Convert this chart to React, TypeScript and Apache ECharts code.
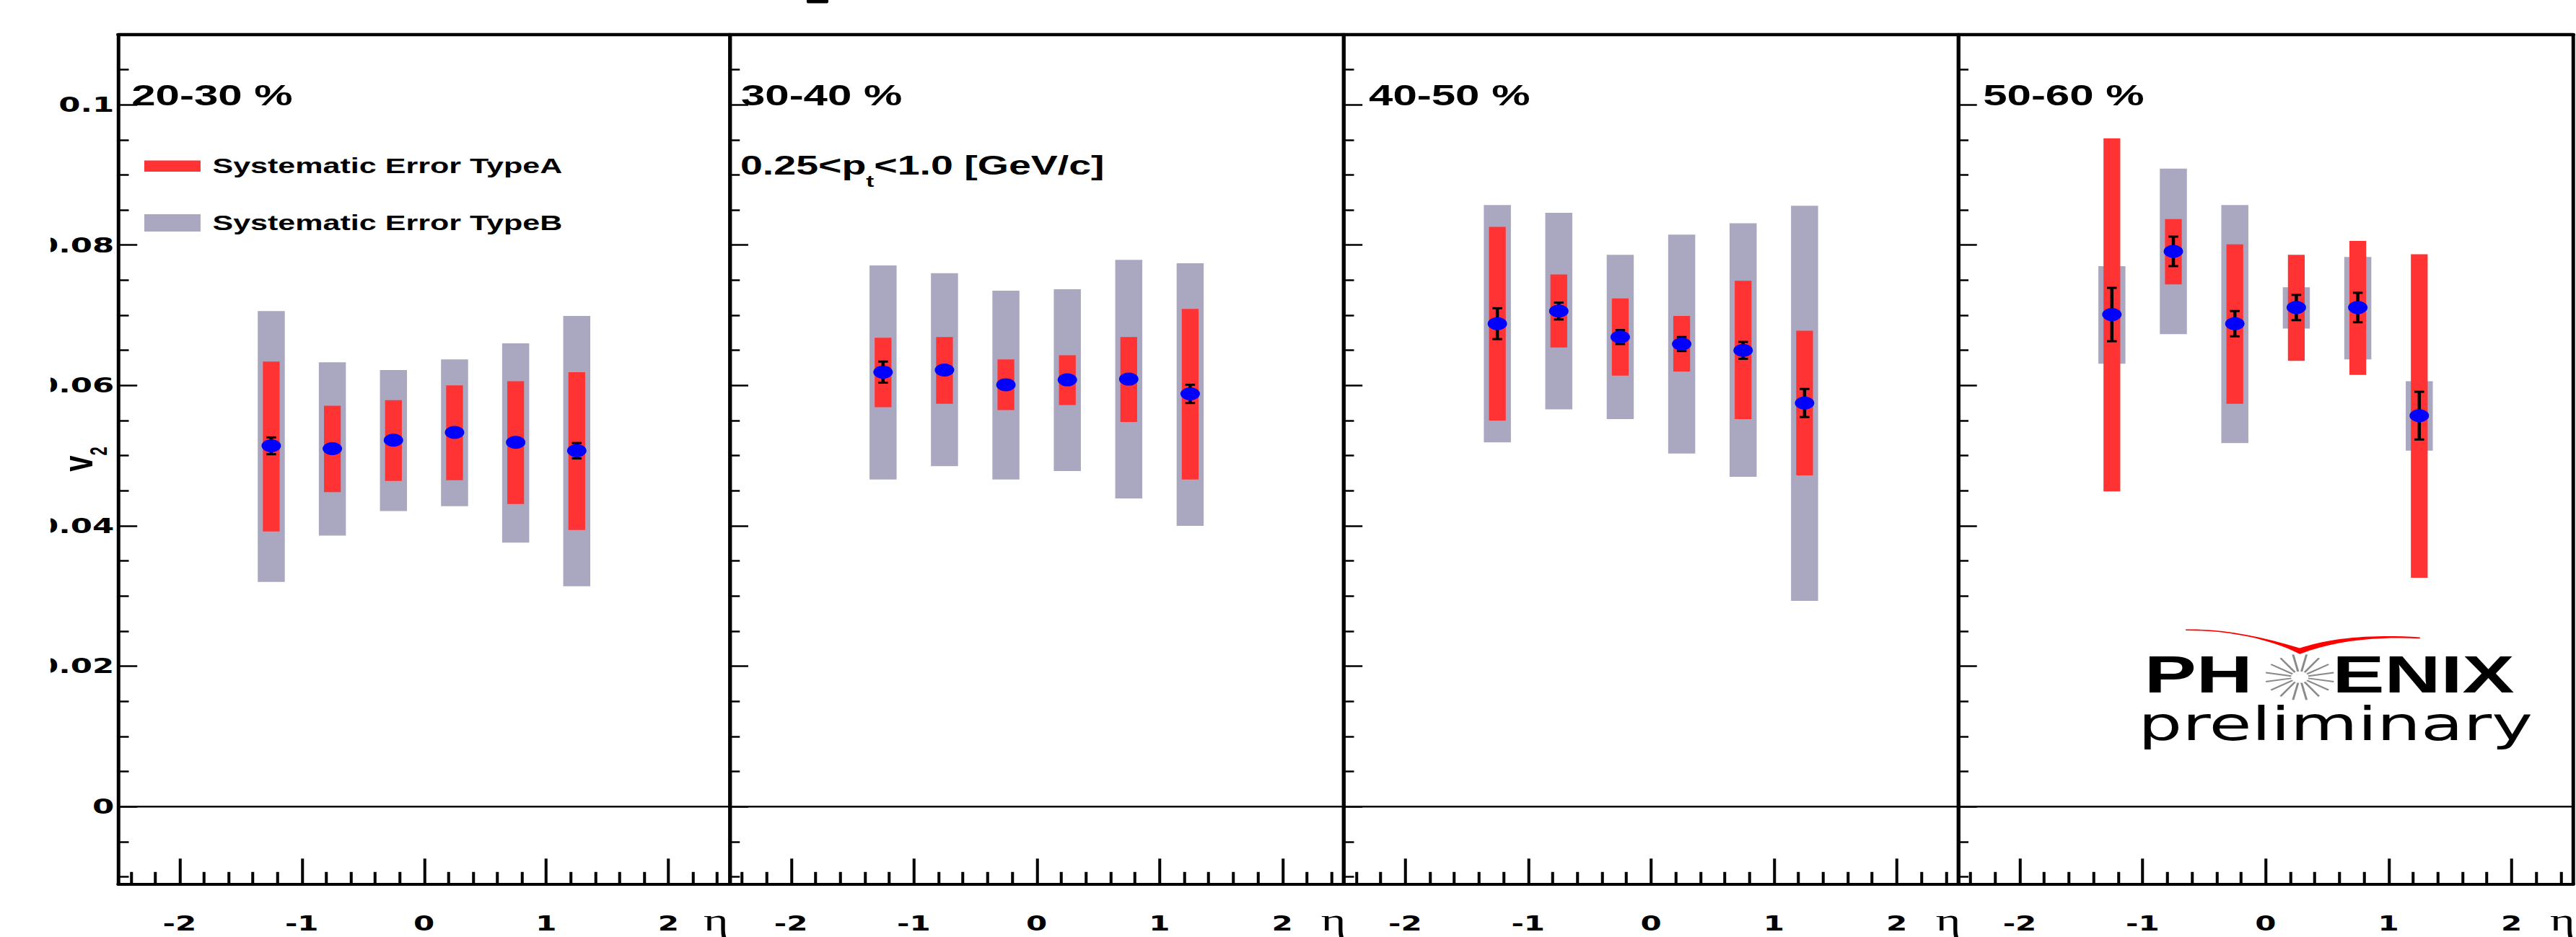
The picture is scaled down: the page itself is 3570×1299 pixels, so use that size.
import React, { useEffect, useRef } from "react";
import * as echarts from "echarts";

// ---------------- data ----------------
const ETA = [-1.25, -0.75, -0.25, 0.25, 0.75, 1.25];
const CENTRALITY = ["20-30 %", "30-40 %", "40-50 %", "50-60 %"];
const PT_RANGE_TEXT = "{m|0.25<p}{s|t}{m|<1.0 [GeV/c]}";
const LEGEND_TYPE_A = "Systematic Error TypeA";
const LEGEND_TYPE_B = "Systematic Error TypeB";
const X_TITLE = "η";

// 20-30 %
const V2_20_30 = [0.0514, 0.051, 0.0522, 0.0533, 0.0519, 0.0507];
const STAT_20_30 = [0.0012, 0.0006, 0.0006, 0.0006, 0.0006, 0.0011];
const TYPEA_LOW_20_30 = [0.0392, 0.0448, 0.0464, 0.0465, 0.0431, 0.0394];
const TYPEA_HIGH_20_30 = [0.0634, 0.0571, 0.0579, 0.06, 0.0606, 0.0619];
const TYPEB_LOW_20_30 = [0.032, 0.0386, 0.0421, 0.0428, 0.0376, 0.0314];
const TYPEB_HIGH_20_30 = [0.0706, 0.0633, 0.0622, 0.0637, 0.066, 0.0699];

// 30-40 %
const V2_30_40 = [0.0619, 0.0622, 0.0601, 0.0608, 0.0609, 0.0588];
const STAT_30_40 = [0.0015, 0.0006, 0.0006, 0.0006, 0.0006, 0.0013];
const TYPEA_LOW_30_40 = [0.0569, 0.0574, 0.0565, 0.0572, 0.0548, 0.0466];
const TYPEA_HIGH_30_40 = [0.0668, 0.0669, 0.0637, 0.0643, 0.0669, 0.0709];
const TYPEB_LOW_30_40 = [0.0466, 0.0485, 0.0466, 0.0478, 0.0439, 0.04];
const TYPEB_HIGH_30_40 = [0.0771, 0.076, 0.0735, 0.0737, 0.0779, 0.0774];

// 40-50 %
const V2_40_50 = [0.0688, 0.0706, 0.0669, 0.0659, 0.065, 0.0575];
const STAT_40_50 = [0.0022, 0.0012, 0.001, 0.001, 0.0012, 0.002];
const TYPEA_LOW_40_50 = [0.055, 0.0654, 0.0614, 0.062, 0.0552, 0.0472];
const TYPEA_HIGH_40_50 = [0.0826, 0.0758, 0.0724, 0.0699, 0.0749, 0.0678];
const TYPEB_LOW_40_50 = [0.0519, 0.0566, 0.0552, 0.0503, 0.047, 0.0293];
const TYPEB_HIGH_40_50 = [0.0857, 0.0846, 0.0786, 0.0815, 0.0831, 0.0856];

// 50-60 %
const V2_50_60 = [0.0701, 0.0791, 0.0688, 0.0711, 0.0711, 0.0557];
const STAT_50_60 = [0.0038, 0.0021, 0.0018, 0.0018, 0.0021, 0.0034];
const TYPEA_LOW_50_60 = [0.0449, 0.0744, 0.0574, 0.0635, 0.0615, 0.0326];
const TYPEA_HIGH_50_60 = [0.0952, 0.0837, 0.0801, 0.0786, 0.0806, 0.0787];
const TYPEB_LOW_50_60 = [0.0631, 0.0673, 0.0518, 0.0681, 0.0637, 0.0507];
const TYPEB_HIGH_50_60 = [0.077, 0.0909, 0.0857, 0.074, 0.0783, 0.0606];

// axis ticks / labels
const X_MIN = -2.5;
const X_MAX = 2.5;
const Y_MIN = -0.011;
const Y_MAX = 0.11;
const X_MAJOR_TICKS = [-2, -1, 0, 1, 2];
const X_MINOR_TICKS = [
  -2.4, -2.2, -1.8, -1.6, -1.4, -1.2, -0.8, -0.6, -0.4, -0.2, 0.2, 0.4, 0.6,
  0.8, 1.2, 1.4, 1.6, 1.8, 2.2, 2.4,
];
const Y_MAJOR_TICKS = [0, 0.02, 0.04, 0.06, 0.08, 0.1];
const Y_MINOR_TICKS = [
  -0.01, -0.005, 0.005, 0.01, 0.015, 0.025, 0.03, 0.035, 0.045, 0.05, 0.055,
  0.065, 0.07, 0.075, 0.085, 0.09, 0.095, 0.105,
];

const PANELS = [
  { label: CENTRALITY[0], v2: V2_20_30, stat: STAT_20_30, aLo: TYPEA_LOW_20_30, aHi: TYPEA_HIGH_20_30, bLo: TYPEB_LOW_20_30, bHi: TYPEB_HIGH_20_30 },
  { label: CENTRALITY[1], v2: V2_30_40, stat: STAT_30_40, aLo: TYPEA_LOW_30_40, aHi: TYPEA_HIGH_30_40, bLo: TYPEB_LOW_30_40, bHi: TYPEB_HIGH_30_40 },
  { label: CENTRALITY[2], v2: V2_40_50, stat: STAT_40_50, aLo: TYPEA_LOW_40_50, aHi: TYPEA_HIGH_40_50, bLo: TYPEB_LOW_40_50, bHi: TYPEB_HIGH_40_50 },
  { label: CENTRALITY[3], v2: V2_50_60, stat: STAT_50_60, aLo: TYPEA_LOW_50_60, aHi: TYPEA_HIGH_50_60, bLo: TYPEB_LOW_50_60, bHi: TYPEB_HIGH_50_60 },
];

// ---------------- layout & style ----------------
const STRETCH_X = 1.5; // the reference picture is stretched horizontally
const CHART_W = 3570 / STRETCH_X;
const CHART_H = 1299;
const GRID_LEFTS = [109.5, 674, 1241.5, 1809.2];
const GRID_WIDTHS = [564.5, 567.5, 567.7, 568];
const GRID_TOP = 47.8;
const GRID_H = 1177.5;
const TITLE_X = [121.5, 684.6, 1264.7, 1832.1];
const ETA_TITLE_X = [650, 1220.5, 1788.5, 2356];

const RED = "#ff3333";
const GRAY = "#aaa7c1";
const BLUE = "#0000ff";
const BLACK = "#000000";
const GRAY_W = 25;
const RED_W = 15.5;
const CAP_W = 9;
const SANS = "Liberation Sans";
const TICK_FONT = "DejaVu Sans";

// PHENIX swoosh outline
const SWOOSH_D =
  "M2019.4 872.6 C2050 871.5 2085 880 2124.8 898.5 C2150 886 2185 878.5 2235.8 883.4 " +
  "L2235.8 885.2 C2190 882.5 2156 889 2124.8 906.7 C2092 882 2052 874 2019.4 873.9 Z";
echarts.graphic.registerShape("phenixSwoosh", echarts.graphic.extendPath(SWOOSH_D, {}));

function boxSeries(name: string, color: string, width: number, lo: number[], hi: number[], i: number, z: number) {
  return {
    type: "custom",
    name,
    xAxisIndex: 3 * i,
    yAxisIndex: 3 * i,
    z,
    clip: false,
    silent: true,
    itemStyle: { color },
    encode: { x: 0, y: [1, 2] },
    data: ETA.map((e, k) => [e, lo[k], hi[k]]),
    renderItem: (_p: any, api: any) => {
      const x = api.value(0);
      const top = api.coord([x, api.value(2)]);
      const bot = api.coord([x, api.value(1)]);
      return {
        type: "rect",
        shape: { x: top[0] - width / 2, y: top[1], width, height: bot[1] - top[1] },
        style: { fill: color },
      };
    },
  };
}

function errorSeries(v2: number[], stat: number[], i: number) {
  return {
    type: "custom",
    name: "stat",
    xAxisIndex: 3 * i,
    yAxisIndex: 3 * i,
    z: 4,
    clip: false,
    silent: true,
    encode: { x: 0, y: [1, 2] },
    data: ETA.map((e, k) => [e, v2[k] - stat[k], v2[k] + stat[k]]),
    renderItem: (_p: any, api: any) => {
      const x = api.value(0);
      const top = api.coord([x, api.value(2)]);
      const bot = api.coord([x, api.value(1)]);
      const st = { stroke: BLACK, lineWidth: 3 };
      return {
        type: "group",
        children: [
          { type: "line", shape: { x1: top[0], y1: top[1], x2: bot[0], y2: bot[1] }, style: st },
          { type: "line", shape: { x1: top[0] - CAP_W / 2, y1: top[1], x2: top[0] + CAP_W / 2, y2: top[1] }, style: st },
          { type: "line", shape: { x1: bot[0] - CAP_W / 2, y1: bot[1], x2: bot[0] + CAP_W / 2, y2: bot[1] }, style: st },
        ],
      };
    },
  };
}

function buildOption() {
  const grid: any[] = [];
  const xAxis: any[] = [];
  const yAxis: any[] = [];
  const series: any[] = [];

  PANELS.forEach((p, i) => {
    grid.push({ left: GRID_LEFTS[i], top: GRID_TOP, width: GRID_WIDTHS[i], height: GRID_H, show: false, containLabel: false, outerBoundsMode: "none" });

    // x: major (with labels), minor, top frame
    xAxis.push({
      type: "value", gridIndex: i, min: X_MIN, max: X_MAX, position: "bottom",
      axisLine: { show: true, onZero: false, lineStyle: { color: BLACK, width: 4 } },
      axisTick: { show: true, inside: true, length: 35, customValues: X_MAJOR_TICKS, lineStyle: { color: BLACK, width: 2.7 } },
      axisLabel: { show: true, customValues: X_MAJOR_TICKS, margin: 40.5, fontFamily: TICK_FONT, fontWeight: "bold", fontSize: 28, color: BLACK },
      splitLine: { show: false },
    });
    xAxis.push({
      type: "value", gridIndex: i, min: X_MIN, max: X_MAX, position: "bottom",
      axisLine: { show: false, onZero: false },
      axisTick: { show: true, inside: true, length: 16.5, customValues: X_MINOR_TICKS, lineStyle: { color: BLACK, width: 2.7 } },
      axisLabel: { show: false }, splitLine: { show: false },
    });
    xAxis.push({
      type: "value", gridIndex: i, min: X_MIN, max: X_MAX, position: "top",
      axisLine: { show: true, onZero: false, lineStyle: { color: BLACK, width: 4.3 } },
      axisTick: { show: false }, axisLabel: { show: false }, splitLine: { show: false },
    });

    // y: major, minor, right frame
    yAxis.push({
      type: "value", gridIndex: i, min: Y_MIN, max: Y_MAX, position: "left",
      axisLine: { show: true, onZero: false, lineStyle: { color: BLACK, width: 3.3 } },
      axisTick: { show: true, inside: true, length: 17.3, customValues: Y_MAJOR_TICKS, lineStyle: { color: BLACK, width: 2.5 } },
      axisLabel: i === 0
        ? { show: true, customValues: Y_MAJOR_TICKS, margin: 4, fontFamily: TICK_FONT, fontWeight: "bold", fontSize: 29, color: BLACK,
            formatter: (v: number) => String(Number(v.toFixed(3))) }
        : { show: false },
      splitLine: { show: false },
      name: i === 0 ? "{v|v}{s|2}" : "",
      nameLocation: "middle", nameRotate: 90, nameGap: 7, nameMoveOverlap: false,
      nameTextStyle: {
        color: BLACK,
        rich: {
          v: { fontFamily: SANS, fontWeight: "bold", fontSize: 40, color: BLACK, verticalAlign: "top" },
          s: { fontFamily: SANS, fontWeight: "bold", fontSize: 22, color: BLACK, verticalAlign: "bottom", lineHeight: 51 },
        },
      },
    });
    yAxis.push({
      type: "value", gridIndex: i, min: Y_MIN, max: Y_MAX, position: "left",
      axisLine: { show: false, onZero: false },
      axisTick: { show: true, inside: true, length: 9.5, customValues: Y_MINOR_TICKS, lineStyle: { color: BLACK, width: 2.5 } },
      axisLabel: { show: false }, splitLine: { show: false },
    });
    yAxis.push({
      type: "value", gridIndex: i, min: Y_MIN, max: Y_MAX, position: "right",
      axisLine: { show: true, onZero: false, lineStyle: { color: BLACK, width: 3.3 } },
      axisTick: { show: false }, axisLabel: { show: false }, splitLine: { show: false },
    });

    series.push({
      type: "line", name: "zero", xAxisIndex: 3 * i, yAxisIndex: 3 * i, z: 1, silent: true,
      symbol: "none", data: [[X_MIN, 0], [X_MAX, 0]], lineStyle: { color: BLACK, width: 2.5 },
    });
    series.push(boxSeries(LEGEND_TYPE_B, GRAY, GRAY_W, p.bLo, p.bHi, i, 2));
    series.push(boxSeries(LEGEND_TYPE_A, RED, RED_W, p.aLo, p.aHi, i, 3));
    series.push(errorSeries(p.v2, p.stat, i));
    series.push({
      type: "scatter", name: "v2", xAxisIndex: 3 * i, yAxisIndex: 3 * i, z: 5, silent: true,
      symbol: "circle", symbolSize: 18, itemStyle: { color: BLUE, opacity: 1 },
      data: ETA.map((e, k) => [e, p.v2[k]]),
    });
  });

  const legendText = { fontFamily: SANS, fontWeight: "bold", fontSize: 28.7, color: BLACK, lineHeight: 28, padding: [0, 0, 0, 6] };
  const legend = [
    { show: true, left: 133.3, top: 215.7, padding: 0, itemWidth: 52, itemHeight: 15.4, selectedMode: false,
      data: [{ name: LEGEND_TYPE_A, icon: "rect", itemStyle: { color: RED } }], textStyle: legendText },
    { show: true, left: 133.3, top: 294.5, padding: 0, itemWidth: 52, itemHeight: 24, selectedMode: false,
      data: [{ name: LEGEND_TYPE_B, icon: "rect", itemStyle: { color: GRAY } }], textStyle: legendText },
  ];

  const cx = 2124.8;
  const cy = 938.8;
  const rays = Array.from({ length: 16 }, (_, k) => {
    const a = ((11.25 + 22.5 * k) * Math.PI) / 180;
    return {
      type: "line",
      shape: { x1: cx + 8 * Math.cos(a), y1: cy - 8 * Math.sin(a), x2: cx + 32 * Math.cos(a), y2: cy - 32 * Math.sin(a) },
      style: { stroke: "#8a8a8a", lineWidth: 2 },
    };
  });

  const graphic: any[] = [
    ...PANELS.map((p, i) => ({
      type: "text", x: TITLE_X[i], y: 132.5, z: 10,
      style: { text: p.label, fontFamily: SANS, fontWeight: "bold", fontSize: 40, fill: BLACK, align: "left", verticalAlign: "middle" },
    })),
    ...PANELS.map((_p, i) => ({
      type: "text", x: ETA_TITLE_X[i], y: 1275, z: 10,
      style: { text: X_TITLE, fontFamily: "Liberation Serif", fontSize: 44, fill: BLACK, align: "left", verticalAlign: "middle" },
    })),
    {
      type: "text", x: 684, y: 211, z: 10,
      style: {
        text: PT_RANGE_TEXT, fill: BLACK, align: "left", verticalAlign: "top",
        rich: {
          m: { fontFamily: SANS, fontWeight: "bold", fontSize: 37, fill: BLACK, verticalAlign: "top" },
          s: { fontFamily: SANS, fontWeight: "bold", fontSize: 22, fill: BLACK, verticalAlign: "bottom", lineHeight: 51.4 },
        },
      },
    },
    // remnant of the cut-off title at the very top
    { type: "rect", z: 10, shape: { x: 745.3, y: -2, width: 20, height: 6.5, r: 2 }, style: { fill: BLACK } },
    // left edge of the picture cuts the y tick labels
    { type: "rect", z: 50, shape: { x: 0, y: 0, width: 46.7, height: CHART_H }, style: { fill: "#ffffff" } },
    // PHENIX preliminary logo
    { type: "phenixSwoosh", x: 0, y: 0, z: 10, style: { fill: "#ff0000" } },
    ...rays.map((r) => ({ ...r, z: 10 })),
    { type: "text", x: 1981.2, y: 935.2, z: 10, style: { text: "PH", fontFamily: SANS, fontWeight: "bold", fontSize: 72, fill: BLACK, align: "left", verticalAlign: "middle" } },
    { type: "text", x: 2155, y: 935.2, z: 10, style: { text: "ENIX", fontFamily: SANS, fontWeight: "bold", fontSize: 72, fill: BLACK, align: "left", verticalAlign: "middle" } },
    { type: "text", x: 1975.5, y: 1004, z: 10, style: { text: "preliminary", fontFamily: "DejaVu Sans", fontWeight: "normal", fontSize: 64, fill: BLACK, align: "left", verticalAlign: "middle" } },
  ];

  return {
    animation: false,
    backgroundColor: "#ffffff",
    textStyle: { fontFamily: SANS },
    grid,
    xAxis,
    yAxis,
    legend,
    series,
    graphic,
  };
}

export default function App() {
  const ref = useRef<HTMLDivElement>(null);
  useEffect(() => {
    if (!ref.current) return;
    document.body.style.overflow = "hidden";
    const chart = echarts.init(ref.current, undefined, { renderer: "svg", width: CHART_W, height: CHART_H });
    chart.setOption(buildOption() as any);
    return () => chart.dispose();
  }, []);
  return (
    <div
      ref={ref}
      style={{
        position: "absolute",
        left: 0,
        top: 0,
        width: CHART_W,
        height: CHART_H,
        transform: `scaleX(${STRETCH_X})`,
        transformOrigin: "0 0",
        background: "#ffffff",
      }}
    />
  );
}
